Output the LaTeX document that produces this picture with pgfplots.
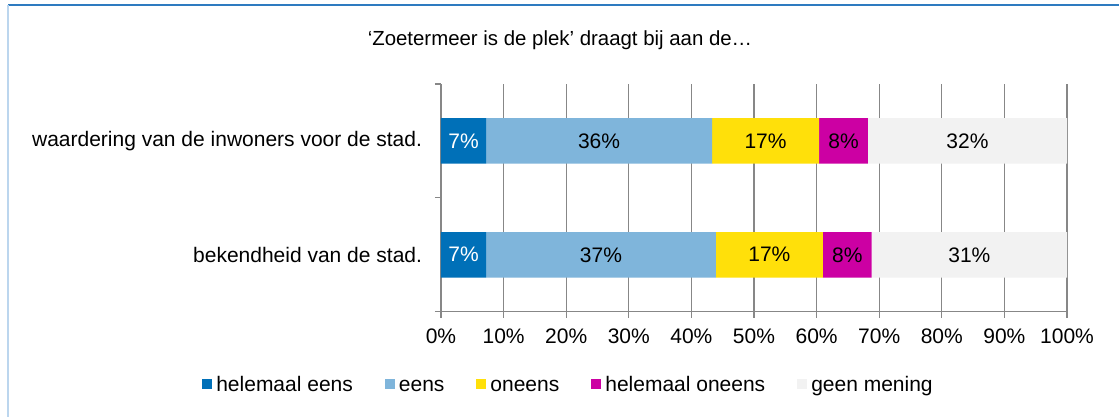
\documentclass[border=0pt]{standalone}
\usepackage{pgfplots}
\pgfplotsset{compat=1.18}
\usepackage{fontspec}
\setmainfont{Liberation Sans}
\definecolor{c1}{HTML}{0070B8}
\definecolor{c2}{HTML}{7FB5DB}
\definecolor{c3}{HTML}{FFE00A}
\definecolor{c4}{HTML}{CC00A3}
\definecolor{c5}{HTML}{F2F2F2}
\definecolor{gridgray}{HTML}{878787}
\definecolor{borderblue}{HTML}{2E7BC0}
\definecolor{borderlight}{HTML}{BCD6EE}
\begin{document}
\begin{tikzpicture}[x=1pt,y=1pt]
\fontsize{20.4}{24}\selectfont
\useasboundingbox (0,0) rectangle (1119,417);
\fill[white] (0,0) rectangle (1119,417);
\draw[borderblue, line width=2pt] (8,412) -- (1119,412);
\draw[borderlight, line width=1.5pt] (8,412) -- (8,0);
\node[anchor=base] at (560,371) {‘Zoetermeer is de plek’ draagt bij aan de…};
\begin{axis}[
  at={(441pt,105.3pt)}, anchor=south west,
  scale only axis, width=626pt, height=227.7pt,
  xbar stacked, bar width=0.4,
  xmin=0, xmax=100, ymin=-0.5, ymax=1.5,
  axis x line*=bottom, axis y line*=left,
  axis line style={gridgray, line width=1.3pt},
  tick align=outside,
  xtick={0,10,20,30,40,50,60,70,80,90,100},
  xticklabels={0\%,10\%,20\%,30\%,40\%,50\%,60\%,70\%,80\%,90\%,100\%},
  xmajorgrids, grid style={gridgray, line width=1.3pt},
  x tick style={gridgray, line width=1.3pt},
  major tick length=6pt, minor tick length=6pt,
  ytick={0,1},
  yticklabels={bekendheid van de stad., waardering van de inwoners voor de stad.},
  minor ytick={-0.5,0.5,1.5},
  major y tick style={draw=none},
  minor y tick style={gridgray, line width=1.3pt},
  tick label style={font=\fontsize{21}{24}\selectfont},
  yticklabel style={xshift=-6pt},
  xticklabel style={yshift=-4pt},
  /pgf/number format/assume math mode=true,
  point meta=explicit,
  nodes near coords={\pgfmathprintnumber[fixed,precision=0]{\pgfplotspointmeta}\%},
  every node near coord/.append style={font=\fontsize{21}{24}\selectfont, anchor=center},
  legend columns=-1,
  legend style={draw=none, fill=none, at={(0.2053,-0.3263)}, anchor=center,
    font=\fontsize{21}{24}\selectfont, inner sep=0pt,
    nodes={inner xsep=4pt, inner ysep=0pt, text height=15pt, text depth=4.5pt},
    /tikz/every even column/.append style={column sep=28pt}},
  legend image code/.code={\fill[#1] (0pt,-3.25pt) rectangle (10pt,6.75pt);},
]
\addplot[fill=c1, draw=none, nodes near coords style={white}] table[x=x, y=y, meta=l] {
x y l
7.2 0 7
7.2 1 7
};
\addlegendentry{helemaal eens}
\addplot[fill=c2, draw=none] table[x=x, y=y, meta=l] {
x y l
36.7 0 37
36.1 1 36
};
\addlegendentry{eens}
\addplot[fill=c3, draw=none] table[x=x, y=y, meta=l] {
x y l
17.1 0 17
17.1 1 17
};
\addlegendentry{oneens}
\addplot[fill=c4, draw=none] table[x=x, y=y, meta=l] {
x y l
7.8 0 8
7.8 1 8
};
\addlegendentry{helemaal oneens}
\addplot[fill=c5, draw=none] table[x=x, y=y, meta=l] {
x y l
31.2 0 31
31.8 1 32
};
\addlegendentry{geen mening}
\end{axis}
\end{tikzpicture}
\end{document}
